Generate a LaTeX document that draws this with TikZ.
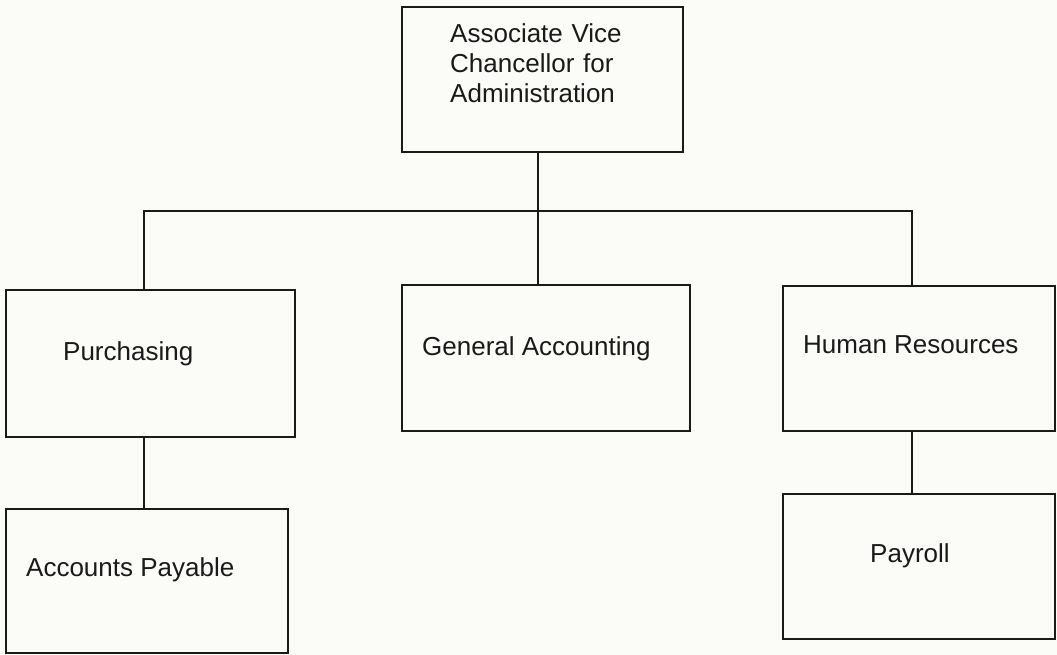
\documentclass[tikz,border=0pt]{standalone}
\usepackage{fontspec}
\setmainfont{Liberation Sans}
\definecolor{paper}{HTML}{FBFBF8}
\definecolor{ink}{HTML}{1A1A1A}
\begin{document}
\begin{tikzpicture}[x=1pt,y=-1pt,
  box/.style={draw=ink,line width=1.6pt,inner sep=0pt},
  lbl/.style={inner sep=0pt,anchor=base west,text=ink,font=\fontsize{26}{30}\selectfont},
  link/.style={draw=ink,line width=1.4pt}]
\fill[paper] (0,0) rectangle (1057,655);
\useasboundingbox (0,0) rectangle (1057,655);
% boxes
\node[box,fit/.style={},minimum width=281pt,minimum height=145pt] (top) at (542.5,79.5) {};
\node[box,minimum width=289pt,minimum height=147pt] (purch) at (150.5,363.5) {};
\node[box,minimum width=288pt,minimum height=146pt] (gen) at (546,358) {};
\node[box,minimum width=272pt,minimum height=145pt] (hr) at (919,358.5) {};
\node[box,minimum width=282pt,minimum height=144pt] (ap) at (147,581) {};
\node[box,minimum width=272pt,minimum height=145pt] (pay) at (919,566.5) {};
% labels
\node[lbl,text width=240pt,align=left] (toplbl) at (450,43) {Associate Vice\\Chancellor for\\Administration};
\node[lbl] (purchlbl) at (63,360) {Purchasing};
\node[lbl] (genlbl) at (422,355) {General Accounting};
\node[lbl] (hrlbl) at (803,353) {Human Resources};
\node[lbl] (aplbl) at (26,576) {Accounts Payable};
\node[lbl] (paylbl) at (870,562) {Payroll};
% connectors
\coordinate (bus) at (538,211);
\coordinate (busL) at (144,211);
\coordinate (busR) at (912,211);
\draw[link] (top.south -| bus) -- (bus);
\draw[link] (purch.north -| busL) -- (busL) -- (busR) -- (hr.north -| busR);
\draw[link] (bus) -- (gen.north -| bus);
\draw[link] (purch.south -| busL) -- (ap.north -| busL);
\draw[link] (hr.south -| busR) -- (pay.north -| busR);
\end{tikzpicture}
\end{document}
